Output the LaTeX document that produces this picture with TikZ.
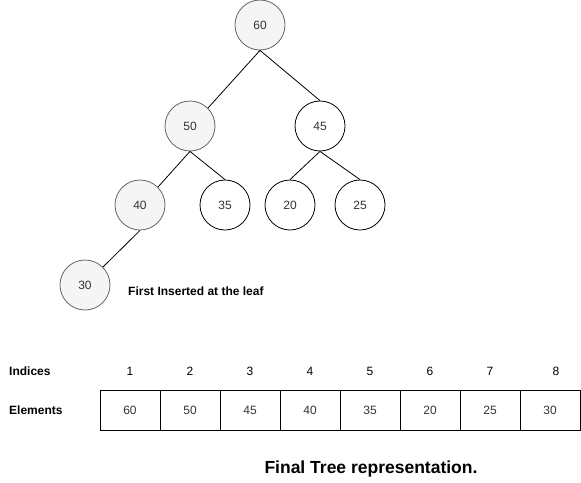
\documentclass[tikz,border=0pt]{standalone}
\usepackage{fontspec}
\setmainfont{Liberation Sans}
\definecolor{grayfill}{HTML}{F5F5F5}
\definecolor{graystroke}{HTML}{666666}
\definecolor{numtext}{HTML}{333333}
\begin{document}
\begin{tikzpicture}[x=1pt,y=-1pt,
  every node/.style={font=\fontsize{12}{14}\selectfont},
  treenode/.style={circle,draw=black,fill=white,line width=0.8pt,minimum size=50pt,inner sep=0pt,text=numtext},
  graynode/.style={treenode,draw=graystroke,fill=grayfill},
  cell/.style={rectangle,draw=black,line width=0.8pt,minimum width=60pt,minimum height=40pt,inner sep=0pt,text=numtext},
  lbl/.style={font=\fontsize{12}{14}\selectfont\bfseries,anchor=west,inner sep=0pt},
  idx/.style={inner sep=0pt,text=black},
  edge/.style={draw=black,line width=0.8pt}
]
\useasboundingbox (0,0) rectangle (581,482);
\fill[white] (0,0) rectangle (581,482);

% tree nodes
\node[graynode] (n60) at (260,25) {60};
\node[graynode] (n50) at (190,126) {50};
\node[treenode] (n45) at (320,126) {45};
\node[graynode] (n40) at (140,205) {40};
\node[treenode] (n35) at (225,205) {35};
\node[treenode] (n20) at (290,205) {20};
\node[treenode] (n25) at (360,205) {25};
\node[graynode] (n30) at (85,285) {30};

% edges
\draw[edge] (n60.south) -- (n50.north east);
\draw[edge] (n60.south) -- (n45.north);
\draw[edge] (n50.south) -- (n40.north east);
\draw[edge] (n50.south) -- (n35.north);
\draw[edge] (n45.south) -- (n20.north);
\draw[edge] (n45.south) -- (n25.north);
\draw[edge] (n40.south) -- (n30.north east);

\node[lbl] (leaf) at (128,291) {First Inserted at the leaf};

% labels
\node[lbl] (indices) at (9,371) {Indices};
\node[lbl] (elements) at (9,410) {Elements};

% indices
\node[idx] (i1) at (130,371) {1};
\node[idx] (i2) at (190,371) {2};
\node[idx] (i3) at (250,371) {3};
\node[idx] (i4) at (310,371) {4};
\node[idx] (i5) at (370,371) {5};
\node[idx] (i6) at (430,371) {6};
\node[idx] (i7) at (490,371) {7};
\node[idx] (i8) at (556,371) {8};

% cells
\node[cell] (c1) at (130,410) {60};
\node[cell] (c2) at (190,410) {50};
\node[cell] (c3) at (250,410) {45};
\node[cell] (c4) at (310,410) {40};
\node[cell] (c5) at (370,410) {35};
\node[cell] (c6) at (430,410) {20};
\node[cell] (c7) at (490,410) {25};
\node[cell] (c8) at (550,410) {30};

\node[font=\fontsize{17.5}{20}\selectfont\bfseries,inner sep=0pt] (title) at (371,469) {Final Tree representation.};
\end{tikzpicture}
\end{document}
